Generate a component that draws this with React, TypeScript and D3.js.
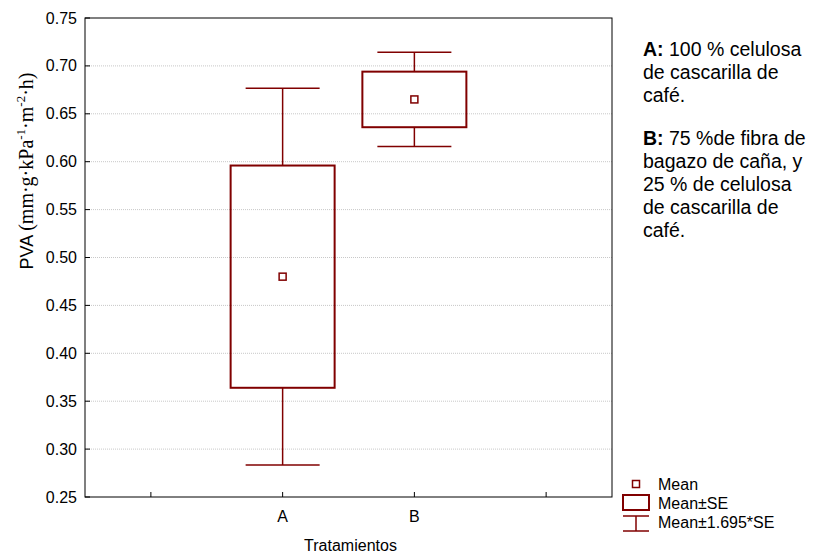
import React from "react";
import * as d3 from "d3";

const categories = ["A", "B"];
const means = [0.48, 0.665];
const stdErrors = [0.116, 0.029];
const seFactor = 1.695;
const yTicks = [0.25, 0.3, 0.35, 0.4, 0.45, 0.5, 0.55, 0.6, 0.65, 0.7, 0.75];
const xTickPositions = [0.5, 1.5, 2.5, 3.5];
const categoryPositions = [1.5, 2.5];

const noteA = ["de cascarilla de", "café."];
const noteB = ["bagazo de caña, y", "25 % de celulosa", "de cascarilla de", "café."];

const W = 814;
const H = 554;
const left = 85;
const right = 612;
const top = 18;
const bottom = 497;
const dark = "#800000";
const font = "Liberation Sans, Arial, sans-serif";

export default function App() {
  const x = d3.scaleLinear().domain([0, 4]).range([left, right]);
  const y = d3.scaleLinear().domain([0.25, 0.75]).range([bottom, top]);
  const boxW = 104;
  const capW = 74;

  return (
    <svg width={W} height={H} style={{ position: "absolute", left: 0, top: 0 }} fontFamily={font}>
      <rect width={W} height={H} fill="#fff" />
      {/* grid */}
      {yTicks.slice(1, -1).map((t) => (
        <line key={"g" + t} x1={left} x2={right} y1={y(t)} y2={y(t)} stroke="#c8c8c8" strokeWidth={1} strokeDasharray="1,1" />
      ))}
      {/* y ticks and labels */}
      {yTicks.map((t) => (
        <g key={"y" + t}>
          <line x1={left} x2={left + 5} y1={y(t)} y2={y(t)} stroke="#000" />
          <text x={77} y={y(t) + 5.5} textAnchor="end" fontSize={16}>
            {d3.format(".2f")(t)}
          </text>
        </g>
      ))}
      {/* x ticks */}
      {xTickPositions.map((t) => (
        <line key={"x" + t} x1={x(t)} x2={x(t)} y1={bottom} y2={bottom - 5} stroke="#000" />
      ))}
      {categories.map((c, i) => (
        <text key={c} x={x(categoryPositions[i])} y={522} textAnchor="middle" fontSize={16}>
          {c}
        </text>
      ))}
      <text x={(left + right) / 2 + 2} y={551} textAnchor="middle" fontSize={16}>
        Tratamientos
      </text>
      {/* y label */}
      <text transform="translate(33,171) rotate(-90)" textAnchor="middle" fontSize={18}>
        <tspan fontFamily={font}>PVA </tspan>
        <tspan fontFamily="Liberation Serif, Times New Roman, serif" fontSize={20}>
          (mm·g·kPa<tspan fontSize={13} dy={-8}>-1</tspan>
          <tspan dy={8}>·m</tspan>
          <tspan fontSize={13} dy={-8}>-2</tspan>
          <tspan dy={8}>·h)</tspan>
        </tspan>
      </text>
      {/* boxes */}
      {categories.map((c, i) => {
        const cx = x(categoryPositions[i]);
        const m = means[i];
        const se = stdErrors[i];
        const wHi = y(m + seFactor * se);
        const wLo = y(m - seFactor * se);
        const bHi = y(m + se);
        const bLo = y(m - se);
        return (
          <g key={"b" + c}>
            <line x1={cx} x2={cx} y1={wHi} y2={bHi} stroke={dark} strokeWidth={1.5} />
            <line x1={cx} x2={cx} y1={bLo} y2={wLo} stroke={dark} strokeWidth={1.5} />
            <line x1={cx - capW / 2} x2={cx + capW / 2} y1={wHi} y2={wHi} stroke={dark} strokeWidth={1.5} />
            <line x1={cx - capW / 2} x2={cx + capW / 2} y1={wLo} y2={wLo} stroke={dark} strokeWidth={1.5} />
            <rect x={cx - boxW / 2} y={bHi} width={boxW} height={bLo - bHi} fill="none" stroke={dark} strokeWidth={2} />
            <rect x={cx - 3.5} y={y(m) - 3.5} width={7} height={7} fill="#fff" stroke={dark} strokeWidth={1.5} />
          </g>
        );
      })}
      {/* frame */}
      <rect x={left} y={top} width={right - left} height={bottom - top} fill="none" stroke="#000" strokeWidth={1} />
      {/* legend */}
      <rect x={632.5} y={480.5} width={7} height={7} fill="#fff" stroke={dark} strokeWidth={1.5} />
      <text x={658} y={490} fontSize={16}>Mean</text>
      <rect x={623} y={495} width={26} height={15} fill="none" stroke={dark} strokeWidth={2} />
      <text x={658} y={509} fontSize={16}>Mean±SE</text>
      <line x1={623} x2={649} y1={516} y2={516} stroke={dark} strokeWidth={1.5} />
      <line x1={623} x2={649} y1={531} y2={531} stroke={dark} strokeWidth={1.5} />
      <line x1={636} x2={636} y1={516} y2={531} stroke={dark} strokeWidth={1.5} />
      <text x={658} y={528} fontSize={16}>Mean±1.695*SE</text>
      {/* notes */}
      <text x={643} y={56} fontSize={19.5}>
        <tspan fontWeight="bold">A:</tspan> 100 % celulosa
      </text>
      {noteA.map((s, i) => (
        <text key={"na" + i} x={643} y={79 + i * 23} fontSize={19.5}>{s}</text>
      ))}
      <text x={643} y={145} fontSize={19.5}>
        <tspan fontWeight="bold">B:</tspan> 75 %de fibra de
      </text>
      {noteB.map((s, i) => (
        <text key={"nb" + i} x={643} y={168 + i * 23} fontSize={19.5}>{s}</text>
      ))}
    </svg>
  );
}
